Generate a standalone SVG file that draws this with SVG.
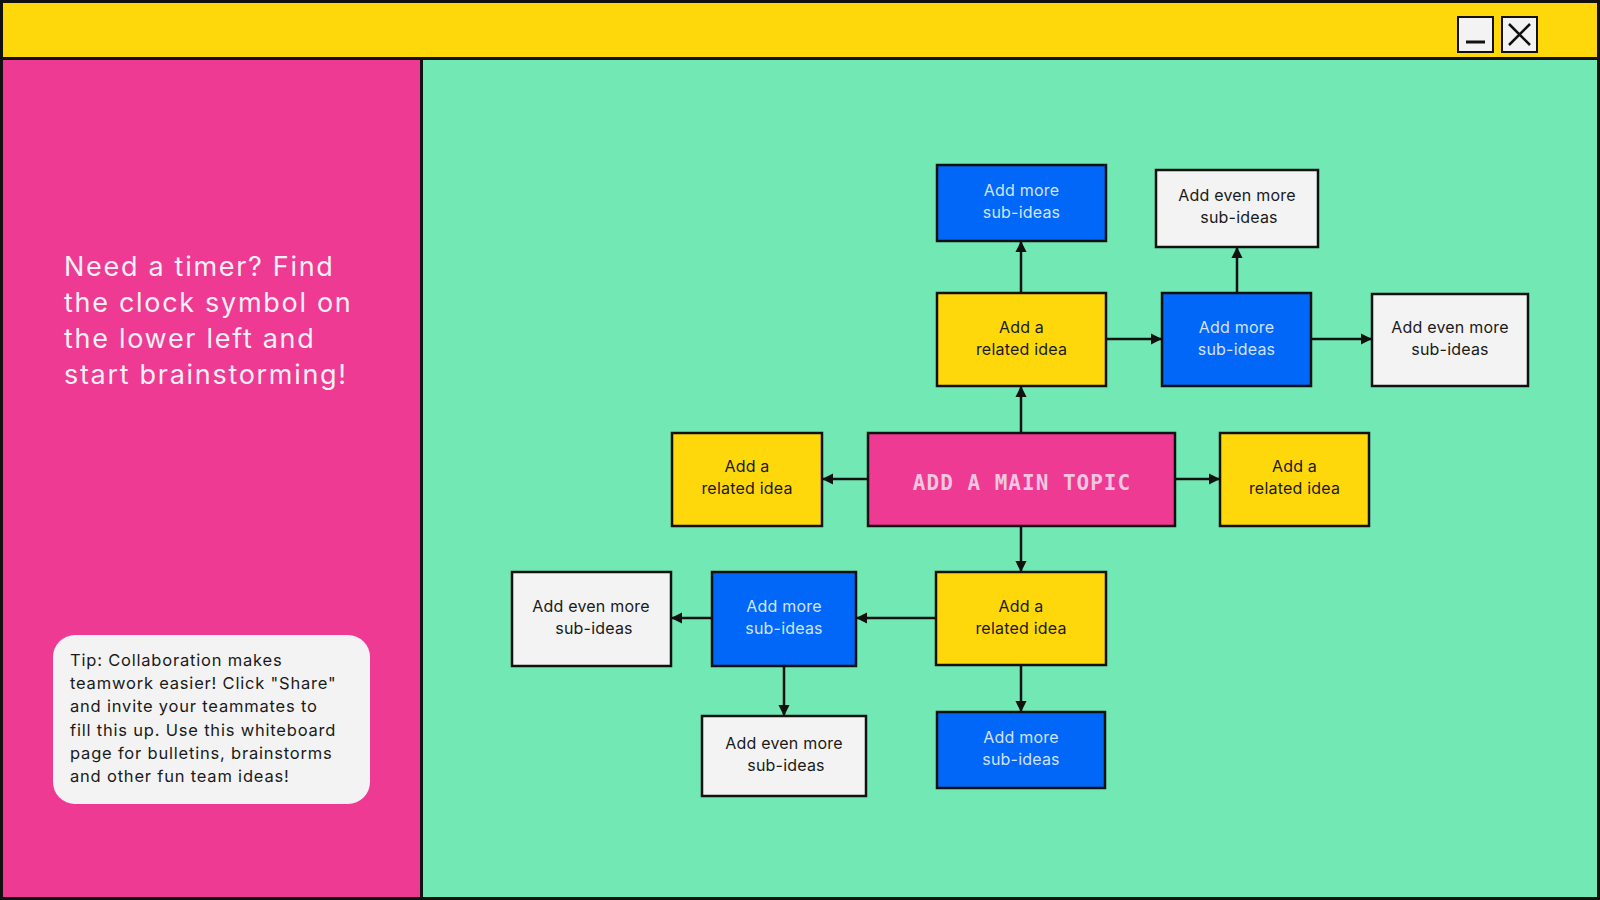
<svg xmlns="http://www.w3.org/2000/svg" width="1600" height="900" viewBox="0 0 1600 900">
<defs>
<style>
.frame{stroke:#111;stroke-width:3}
.node{stroke:#111;stroke-width:2.5}
.yellow{fill:#FFD80C}
.blue{fill:#0067F8}
.white{fill:#F3F3F3}
.t{font-family:Inter,"Liberation Sans",sans-serif;font-size:16px;text-anchor:middle;letter-spacing:0.2px}
.tdark{fill:#1a1a1a}
.tblue{fill:#D3E3FF}
.conn{stroke:#111;stroke-width:2.5;fill:none;marker-end:url(#ah)}
</style>
<marker id="ah" viewBox="0 0 10 10" refX="9" refY="5" markerWidth="4.5" markerHeight="4.5" orient="auto" markerUnits="strokeWidth">
<path d="M0,0 L10,5 L0,10 z" fill="#111"/>
</marker>
</defs>
<rect x="0" y="0" width="1600" height="900" fill="#72E8B5"/>
<rect x="1.5" y="1.5" width="1597" height="57" fill="#FFD80C" class="frame"/>
<rect x="1.5" y="58.5" width="420" height="840" fill="#EE3A93" class="frame"/>
<rect x="1.5" y="1.5" width="1597" height="897" fill="none" class="frame"/>
<g id="btn-min">
<rect x="1458" y="17" width="35" height="35" fill="#F3F3F3" stroke="#111" stroke-width="2"/>
<line x1="1466" y1="42" x2="1485" y2="42" stroke="#111" stroke-width="3"/>
</g>
<g id="btn-close">
<rect x="1502" y="17" width="35" height="35" fill="#F3F3F3" stroke="#111" stroke-width="2"/>
<path d="M1509,24 L1530,45 M1530,24 L1509,45" stroke="#111" stroke-width="2.5"/>
</g>
<g id="heading" font-family="Inter,'Liberation Sans',sans-serif" font-size="27" fill="#F7F0F4" letter-spacing="1.7">
<text x="64" y="276">Need a timer? Find</text>
<text x="64" y="312">the clock symbol on</text>
<text x="64" y="348">the lower left and</text>
<text x="64" y="384">start brainstorming!</text>
</g>
<g id="tip">
<rect x="53" y="635" width="317" height="169" rx="22" fill="#F3F3F3"/>
<g font-family="Inter,'Liberation Sans',sans-serif" font-size="16.5" fill="#1a1a1a" letter-spacing="0.8">
<text x="70" y="666">Tip: Collaboration makes</text>
<text x="70" y="689">teamwork easier! Click "Share"</text>
<text x="70" y="712">and invite your teammates to</text>
<text x="70" y="736">fill this up. Use this whiteboard</text>
<text x="70" y="759">page for bulletins, brainstorms</text>
<text x="70" y="782">and other fun team ideas!</text>
</g>
</g>
<g id="connectors">
<line class="conn" x1="1021" y1="433" x2="1021" y2="387"/>
<line class="conn" x1="1021" y1="293" x2="1021" y2="242"/>
<line class="conn" x1="1106" y1="339" x2="1161" y2="339"/>
<line class="conn" x1="1237" y1="293" x2="1237" y2="248"/>
<line class="conn" x1="1311" y1="339" x2="1371" y2="339"/>
<line class="conn" x1="868" y1="479" x2="823" y2="479"/>
<line class="conn" x1="1175" y1="479" x2="1219" y2="479"/>
<line class="conn" x1="1021" y1="526" x2="1021" y2="571"/>
<line class="conn" x1="1021" y1="665" x2="1021" y2="711"/>
<line class="conn" x1="936" y1="618" x2="857" y2="618"/>
<line class="conn" x1="712" y1="618" x2="672" y2="618"/>
<line class="conn" x1="784" y1="666" x2="784" y2="715"/>
</g>
<g id="main-topic">
<rect x="868" y="433" width="307" height="93" fill="#EE3A93" class="node"/>
<text x="1022" y="490" font-family="'DejaVu Sans Mono','Liberation Mono',monospace" font-weight="bold" font-size="21" letter-spacing="1" fill="#F2C6E0" text-anchor="middle">ADD A MAIN TOPIC</text>
</g>
<g id="top-blue">
<rect x="937" y="165" width="169" height="76" class="node blue"/>
<text class="t tblue" x="1021.5" y="196">Add more</text>
<text class="t tblue" x="1021.5" y="218">sub-ideas</text>
</g>
<g id="top-white">
<rect x="1156" y="170" width="162" height="77" class="node white"/>
<text class="t tdark" x="1237" y="201">Add even more</text>
<text class="t tdark" x="1239" y="223">sub-ideas</text>
</g>
<g id="top-yellow">
<rect x="937" y="293" width="169" height="93" class="node yellow"/>
<text class="t tdark" x="1021.5" y="333">Add a</text>
<text class="t tdark" x="1021.5" y="355">related idea</text>
</g>
<g id="mid-blue">
<rect x="1162" y="293" width="149" height="93" class="node blue"/>
<text class="t tblue" x="1236.5" y="333">Add more</text>
<text class="t tblue" x="1236.5" y="355">sub-ideas</text>
</g>
<g id="right-white">
<rect x="1372" y="294" width="156" height="92" class="node white"/>
<text class="t tdark" x="1450" y="333">Add even more</text>
<text class="t tdark" x="1450" y="355">sub-ideas</text>
</g>
<g id="left-yellow">
<rect x="672" y="433" width="150" height="93" class="node yellow"/>
<text class="t tdark" x="747" y="472">Add a</text>
<text class="t tdark" x="747" y="494">related idea</text>
</g>
<g id="right-yellow">
<rect x="1220" y="433" width="149" height="93" class="node yellow"/>
<text class="t tdark" x="1294.5" y="472">Add a</text>
<text class="t tdark" x="1294.5" y="494">related idea</text>
</g>
<g id="bottom-yellow">
<rect x="936" y="572" width="170" height="93" class="node yellow"/>
<text class="t tdark" x="1021" y="612">Add a</text>
<text class="t tdark" x="1021" y="634">related idea</text>
</g>
<g id="bottom-blue">
<rect x="937" y="712" width="168" height="76" class="node blue"/>
<text class="t tblue" x="1021" y="743">Add more</text>
<text class="t tblue" x="1021" y="765">sub-ideas</text>
</g>
<g id="bl-blue">
<rect x="712" y="572" width="144" height="94" class="node blue"/>
<text class="t tblue" x="784" y="612">Add more</text>
<text class="t tblue" x="784" y="634">sub-ideas</text>
</g>
<g id="left-white">
<rect x="512" y="572" width="159" height="94" class="node white"/>
<text class="t tdark" x="591" y="612">Add even more</text>
<text class="t tdark" x="594" y="634">sub-ideas</text>
</g>
<g id="bottom-white">
<rect x="702" y="716" width="164" height="80" class="node white"/>
<text class="t tdark" x="784" y="749">Add even more</text>
<text class="t tdark" x="786" y="771">sub-ideas</text>
</g>
</svg>
